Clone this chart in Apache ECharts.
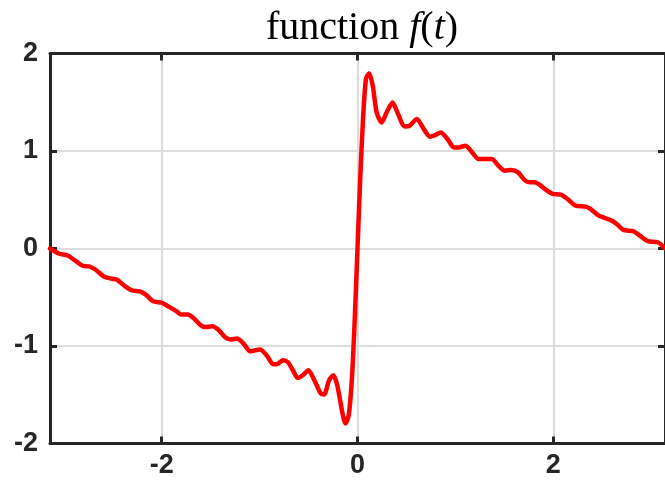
<!DOCTYPE html>
<html>
<head>
<meta charset="utf-8">
<script src="https://cdn.jsdelivr.net/npm/echarts@6/dist/echarts.min.js"></script>
<style>
    html, body {margin: 0; padding: 0; background: #fff;}
    #main {width: 665px; height: 489px;}
</style>
</head>
<body>
<div id="main"></div>
<script>
// 横轴 t 的取值
var t_array = [
    -3.1416, -3.045, -2.960, -2.877, -2.809, -2.743, -2.675, -2.591, -2.507, -2.456,
    -2.373, -2.305, -2.222, -2.154, -2.088, -2.003, -1.937, -1.852, -1.802, -1.735,
    -1.668, -1.600, -1.550, -1.483, -1.416, -1.348, -1.298, -1.231, -1.164, -1.096,
    -1.046, -0.995, -0.929, -0.861, -0.811, -0.761, -0.710, -0.660, -0.610, -0.559,
    -0.502, -0.441, -0.375, -0.341, -0.290, -0.247, -0.207, -0.156, -0.123, -0.089,
    -0.055, -0.028, 0.000, 0.028, 0.055, 0.086, 0.119, 0.156, 0.196, 0.247,
    0.297, 0.358, 0.408, 0.482, 0.532, 0.607, 0.667, 0.741, 0.801, 0.851,
    0.919, 0.985, 1.036, 1.103, 1.171, 1.237, 1.305, 1.372, 1.439, 1.506,
    1.574, 1.640, 1.708, 1.759, 1.809, 1.859, 1.926, 1.993, 2.078, 2.144,
    2.229, 2.329, 2.380, 2.463, 2.581, 2.648, 2.715, 2.816, 2.884, 2.967,
    3.068, 3.1416
];
// f(t) 的值
var f_array = [
    0.000, -0.054, -0.072, -0.130, -0.177, -0.184, -0.218, -0.287, -0.310, -0.320,
    -0.389, -0.430, -0.440, -0.481, -0.542, -0.556, -0.591, -0.642, -0.676, -0.676,
    -0.720, -0.788, -0.806, -0.798, -0.839, -0.914, -0.934, -0.924, -0.975, -1.054,
    -1.044, -1.037, -1.095, -1.187, -1.180, -1.146, -1.167, -1.249, -1.328, -1.300,
    -1.249, -1.351, -1.487, -1.497, -1.351, -1.300, -1.402, -1.676, -1.794, -1.709,
    -1.300, -0.720, 0.000, 0.720, 1.300, 1.737, 1.798, 1.668, 1.395, 1.293,
    1.395, 1.497, 1.395, 1.252, 1.259, 1.328, 1.242, 1.146, 1.167, 1.190,
    1.123, 1.037, 1.037, 1.054, 0.986, 0.918, 0.918, 0.918, 0.850, 0.798,
    0.806, 0.781, 0.701, 0.679, 0.679, 0.655, 0.601, 0.560, 0.553, 0.509,
    0.440, 0.430, 0.406, 0.338, 0.294, 0.252, 0.191, 0.177, 0.133, 0.075,
    0.064, 0.000
];
// 刻度
var x_tick_array = [-2, 0, 2];
var y_min = -2, y_max = 2, y_step = 1;

var axis_color = '#262626';
var grid_color = '#dcdcdc';

var line_data = [];
for (var i = 0; i < t_array.length; i++) {
    line_data.push([t_array[i], f_array[i]]);
}

var label_style = {
    color: axis_color,
    fontFamily: 'Liberation Sans',
    fontWeight: 'bold',
    fontSize: 27
};

function xAxisConf(pos, showLabel) {
    return {
        type: 'value',
        position: pos,
        min: -Math.PI,
        max: Math.PI,
        axisLine: {show: true, onZero: false, lineStyle: {color: axis_color, width: 3}},
        axisTick: {show: true, inside: true, length: 7, customValues: x_tick_array,
            lineStyle: {color: axis_color, width: 3}},
        axisLabel: Object.assign({show: showLabel, margin: 9, customValues: x_tick_array}, label_style),
        splitLine: {show: showLabel, lineStyle: {color: grid_color, width: 2}}
    };
}

function yAxisConf(pos, showLabel) {
    return {
        type: 'value',
        position: pos,
        min: y_min,
        max: y_max,
        interval: y_step,
        axisLine: {show: true, onZero: false, lineStyle: {color: axis_color, width: 3}},
        axisTick: {show: true, inside: true, length: 7, lineStyle: {color: axis_color, width: 3}},
        axisLabel: Object.assign({show: showLabel, margin: 12}, label_style),
        splitLine: {show: showLabel, lineStyle: {color: grid_color, width: 2}}
    };
}

var chart = echarts.init(document.getElementById('main'));
var option = {
    backgroundColor: '#ffffff',
    animation: false,
    title: {
        text: '{a|function }{b|f}{a|(}{b|t}{a|)}',
        left: 357,
        top: 3,
        textAlign: 'center',
        textStyle: {
            fontWeight: 'normal',
            rich: {
                a: {fontFamily: 'Liberation Serif', fontSize: 40, fontWeight: 'normal', color: '#000'},
                b: {fontFamily: 'Liberation Serif', fontSize: 40, fontWeight: 'normal', fontStyle: 'italic', color: '#000'}
            }
        }
    },
    grid: {left: 50, top: 53.5, width: 621, height: 390, containLabel: false},
    xAxis: [xAxisConf('bottom', true), xAxisConf('top', false)],
    yAxis: [yAxisConf('left', true), yAxisConf('right', false)],
    series: [{
        type: 'line',
        data: line_data,
        xAxisIndex: 0,
        yAxisIndex: 0,
        symbol: 'none',
        smooth: 0.25,
        clip: true,
        lineStyle: {color: '#ff0000', width: 4.5, cap: 'round', join: 'round'}
    }]
};
chart.setOption(option);
</script>
</body>
</html>
